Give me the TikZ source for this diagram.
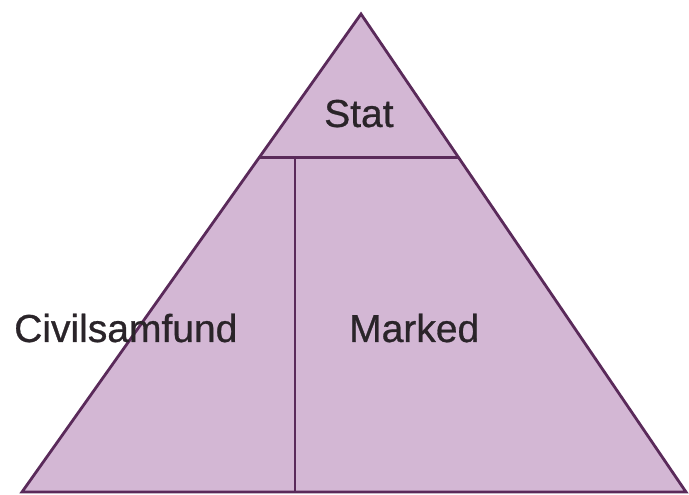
\documentclass[tikz,border=0pt]{standalone}
\usepackage{fontspec}
\setmainfont{Liberation Sans}
\newfontfamily\lblfont[FakeBold=0.7]{Liberation Sans}
\definecolor{pyrfill}{HTML}{D3B7D4}
\definecolor{pyrline}{HTML}{5A2A5A}
\definecolor{txt}{HTML}{2A2429}
\begin{document}
\begin{tikzpicture}[x=1pt,y=1pt,
  edge/.style={draw=pyrline,line width=2.8pt,line join=miter},
  lbl/.style={inner sep=0pt,anchor=base west,text=txt,font=\lblfont\fontsize{39}{47}\selectfont}]
\useasboundingbox (0,0) rectangle (689,495);
\coordinate (apex) at (361,481);
\coordinate (bl) at (22,3);
\coordinate (br) at (686,3);
\path (bl) -- (apex) coordinate[pos=0.7] (hl);
\path (br) -- (apex) coordinate[pos=0.7] (hr);
\coordinate (vt) at (295,338);
\coordinate (vb) at (295,3);
\filldraw[edge,fill=pyrfill] (bl) -- (apex) -- (br) -- cycle;
\draw[edge] (hl) -- (hr);
\draw[edge] (vt) -- (vb);
\node[lbl] (stat) at (324,368) {Stat};
\node[lbl] (civ) at (14,153) {Civilsamfund};
\node[lbl] (mark) at (349,153) {Marked};
\end{tikzpicture}
\end{document}
